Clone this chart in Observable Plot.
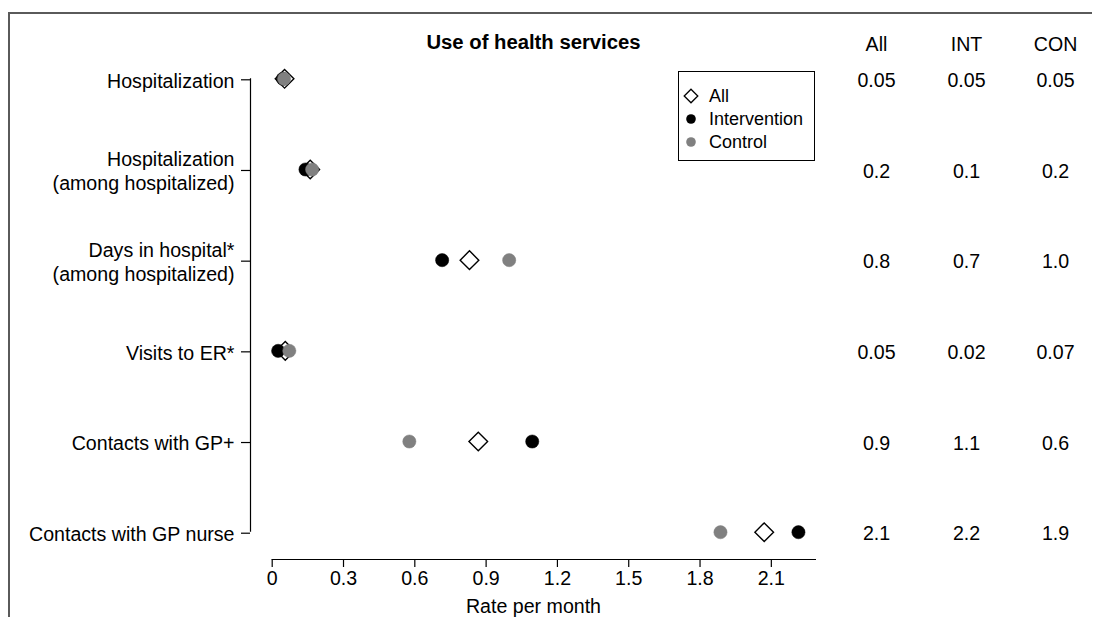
<!DOCTYPE html>
<html><head><meta charset="utf-8">
<script src="https://cdn.jsdelivr.net/npm/d3@7"></script>
<script src="https://cdn.jsdelivr.net/npm/@observablehq/plot@0.6"></script>
<style>
html,body{margin:0;padding:0;background:#fff;}
body{font-family:"Liberation Sans",Arial,sans-serif;}
#wrap{position:relative;width:1094px;height:617px;overflow:hidden;}
#frame{position:absolute;left:8px;top:12px;width:1082px;height:700px;border-top:2px solid #5a5a5a;border-left:2px solid #5a5a5a;}
#chart{position:absolute;left:0;top:0;}
#legend{position:absolute;left:678px;top:71px;width:135px;height:88px;border:1px solid #000;background:#fff;font-size:18px;color:#000;}
.li{position:absolute;left:0;height:22px;display:flex;align-items:center;white-space:nowrap;}
.li svg{margin-left:4px;margin-right:10px;}
</style></head><body>
<div id="wrap"><div id="frame"></div><div id="chart"></div><div id="legend"></div></div>
<script>
// ---- data ----
const categories = ["Hospitalization", "Hospitalization\n(among hospitalized)", "Days in hospital*\n(among hospitalized)", "Visits to ER*", "Contacts with GP+", "Contacts with GP nurse"];
const allRate = [0.052, 0.16, 0.83, 0.055, 0.867, 2.07];
const intRate = [0.045, 0.14, 0.715, 0.025, 1.094, 2.214];
const conRate = [0.05, 0.168, 0.997, 0.072, 0.577, 1.886];
const allLabel = ["0.05", "0.2", "0.8", "0.05", "0.9", "2.1"];
const intLabel = ["0.05", "0.1", "0.7", "0.02", "1.1", "2.2"];
const conLabel = ["0.05", "0.2", "1.0", "0.07", "0.6", "1.9"];
const columnHeaders = ["All", "INT", "CON"];
const xTicks = [0, 0.3, 0.6, 0.9, 1.2, 1.5, 1.8, 2.1];
const legendLabels = ["All", "Intervention", "Control"];
const titleText = "Use of health services";
const xLabel = "Rate per month";

// ---- layout ----
const W = 1094, H = 617;
const grey = "#808080";
const xDomain = [-0.0913, 2.29];
const yDomain = [-0.2018, 5.301];
const font = "Liberation Sans, Arial, sans-serif";
const colDx = [60, 150, 239];
const fs = 19.6;

const rows = categories.map((c, i) => ({i, c, all: allRate[i], int: intRate[i], con: conRate[i]}));
const columns = [allLabel, intLabel, conLabel];

const tableMarks = columns.flatMap((labs, k) => [
  Plot.text([columnHeaders[k]], {frameAnchor: "top-right", textAnchor: "middle", dx: colDx[k], dy: -23, text: d => d, fontSize: fs}),
  Plot.text(rows, {y: "i", frameAnchor: "right", textAnchor: "middle", dx: colDx[k], dy: 2, text: r => labs[r.i], fontSize: fs})
]);

const plot = Plot.plot({
  width: W, height: H,
  marginLeft: 250, marginRight: W - 816, marginTop: 60, marginBottom: 58,
  style: {fontFamily: font, fontSize: fs + "px", background: "transparent", color: "#000", overflow: "visible"},
  x: {domain: xDomain},
  y: {domain: yDomain, reverse: true},
  marks: [
    Plot.ruleX([xDomain[0]], {y1: 0, y2: categories.length - 1, stroke: "#000", strokeWidth: 1.2}),
    Plot.ruleY([yDomain[1]], {x1: 0, x2: xDomain[1], stroke: "#000", strokeWidth: 1.2}),
    Plot.axisY({ticks: d3.range(categories.length), tickFormat: i => categories[i], tickSize: 9, tickPadding: 7,
      fontSize: fs, lineHeight: 1.24, label: null, anchor: "left", strokeWidth: 1.2, dy: 1}),
    Plot.axisX({ticks: xTicks, tickFormat: d => String(d), tickSize: 8, tickPadding: 4, fontSize: fs,
      label: null, anchor: "bottom", strokeWidth: 1.2}),
    Plot.text([xLabel], {frameAnchor: "bottom", dy: 53, fontSize: fs, text: d => d}),
    Plot.text([titleText], {frameAnchor: "top", dy: -26, fontSize: 20.3, fontWeight: "bold", text: d => d}),
    // points
    Plot.dot(rows, {x: "all", y: "i", symbol: "diamond2", r: 8.4, fill: "#fff", stroke: "#000", strokeWidth: 1.4}),
    Plot.dot(rows, {x: "int", y: "i", r: 6.6, fill: "#000", stroke: "#000", strokeWidth: 0.5}),
    Plot.dot(rows, {x: "con", y: "i", r: 6.6, fill: grey, stroke: grey, strokeWidth: 0.5}),
    ...tableMarks
  ]
});
document.getElementById("chart").appendChild(plot);

// ---- legend ----
const legend = document.getElementById("legend");
const legendSymbols = [
  '<svg width="16" height="16" viewBox="-8 -8 16 16"><path d="M0,-6.8L6.8,0L0,6.8L-6.8,0Z" fill="#fff" stroke="#000" stroke-width="1.3"/></svg>',
  '<svg width="16" height="16" viewBox="-8 -8 16 16"><circle r="4.8" fill="#000"/></svg>',
  '<svg width="16" height="16" viewBox="-8 -8 16 16"><circle r="4.8" fill="' + grey + '"/></svg>'
];
legendLabels.forEach((t, k) => {
  const d = document.createElement("div");
  d.className = "li";
  d.style.top = (13 + 23 * k) + "px";
  d.innerHTML = legendSymbols[k] + "<span>" + t + "</span>";
  legend.appendChild(d);
});
</script>
</body></html>
